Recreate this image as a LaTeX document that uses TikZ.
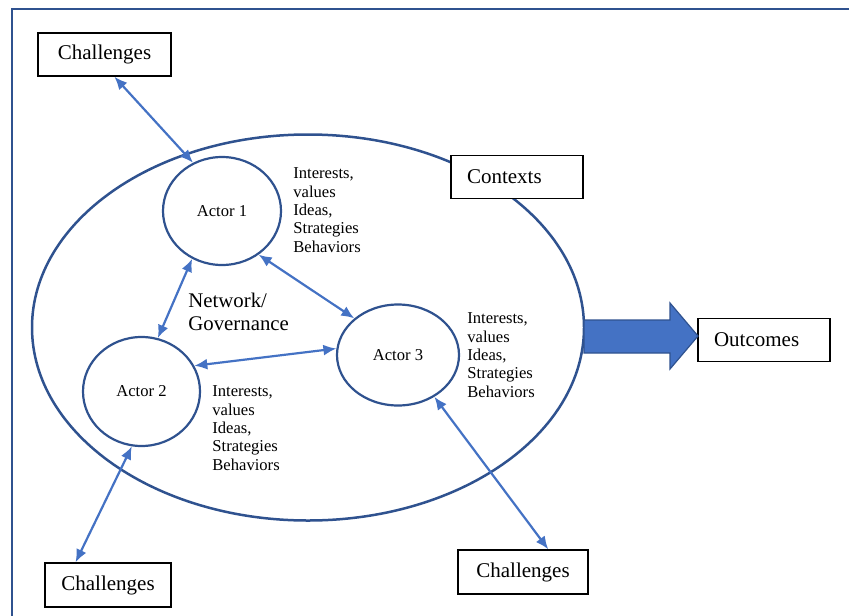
\documentclass[tikz,border=0pt]{standalone}
\usepackage{fontspec}
\setmainfont{Liberation Serif}
\usetikzlibrary{shapes.geometric,arrows.meta}

\definecolor{ringblue}{RGB}{47,82,143}
\definecolor{linkblue}{RGB}{68,114,196}

\tikzset{
  box/.style={draw, rectangle, line width=0.7pt, minimum width=65pt, minimum height=21.5pt, inner sep=0pt, font=\fontsize{10.5}{12}\selectfont},
  lbox/.style={box, text width=50pt, inner xsep=8pt, align=left},
  actor/.style={draw=ringblue, ellipse, line width=1.1pt, inner sep=0pt, font=\fontsize{8.3}{9.2}\selectfont},
  attrs/.style={align=left, inner sep=0pt, anchor=base west, font=\fontsize{8.3}{9.15}\selectfont},
  link/.style={<->, >={Latex[length=6.5pt,width=5.5pt]}, draw=linkblue, line width=1.1pt},
}

\begin{document}
\begin{tikzpicture}[x=0.5pt, y=-0.5pt]
\useasboundingbox (0,0) rectangle (849,615);
\draw[ringblue, line width=1.1pt] (12,9) rectangle (880,650);

% the network
\node[actor, line width=1.25pt, minimum width=276pt, minimum height=193pt] at (308,327.5) (net) {};
\node[actor, minimum width=59pt, minimum height=54pt] at (222,211) (a1) {Actor 1};
\node[actor, minimum width=58.5pt, minimum height=54.5pt] at (141.5,391.5) (a2) {Actor 2};
\node[actor, minimum width=61pt, minimum height=50.5pt] at (398,355) (a3) {Actor 3};

% base is the last line
\node[attrs] at (293,252) (t1) {Interests,\\values\\Ideas,\\Strategies\\Behaviors};
\node[attrs] at (212,470) (t2) {Interests,\\values\\Ideas,\\Strategies\\Behaviors};
\node[attrs] at (467,397) (t3) {Interests,\\values\\Ideas,\\Strategies\\Behaviors};
\node[attrs, font=\fontsize{10.4}{11.5}\selectfont] at (188,330) (gov) {Network/\\Governance};

% boxes
\node[box, minimum width=66.5pt] at (104.5,54.5) (ch1) {Challenges};
\node[box, minimum width=63pt, minimum height=22pt] at (108,585) (ch2) {Challenges};
\node[box, minimum width=65pt, minimum height=22pt] at (523,572) (ch3) {Challenges};
\node[lbox, fill=white] at (517,177) (ctx) {Contexts};
\node[lbox] at (764,340) (out) {Outcomes};

\draw[ringblue, fill=linkblue, line width=0.6pt] (584,320) -- (670,320) -- (670,303) -- (698,336)
  -- (670,369) -- (670,353) -- (584,353) -- cycle;

\draw[link] (ch1.-66) -- (a1.121);
\draw[link] (a1.238) -- (a2.73);
\draw[link] (a1.-50) -- (a3.140);
\draw[link] (a2.26) -- (a3.174);
\draw[link] (a2.260) -- (ch2.145);
\draw[link] (a3.-49) -- (ch3.42);

\end{tikzpicture}
\end{document}
